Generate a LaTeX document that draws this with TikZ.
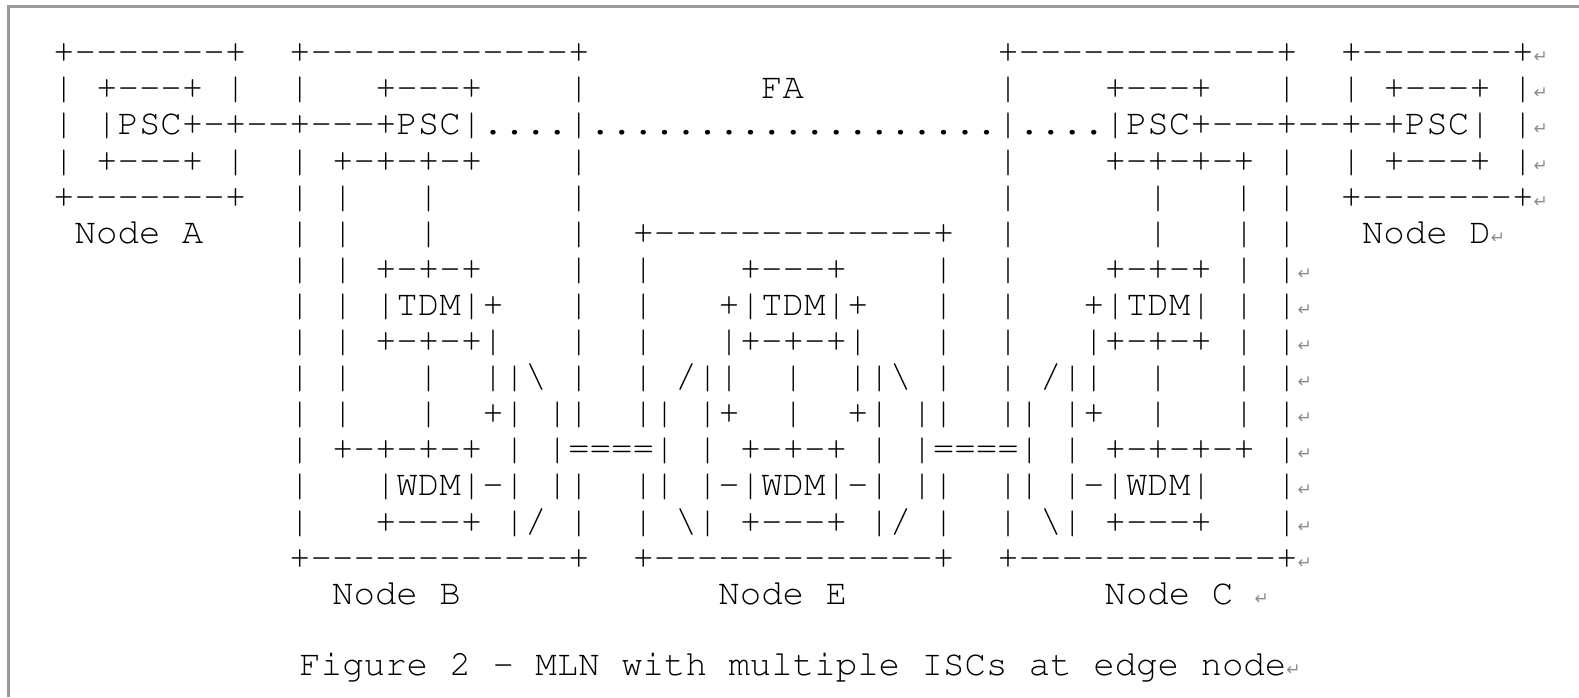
\documentclass[tikz,border=0pt]{standalone}
\usepackage[T1,TU]{fontenc}
\usepackage{fontspec}
\usepackage{tikz}

\newfontfamily\retfont{DejaVu Sans}
\newcommand{\asciifont}{\fontencoding{T1}\fontfamily{pcr}\fontseries{m}\fontshape{n}\fontsize{17.88}{20}\selectfont\frenchspacing}
\definecolor{retgray}{HTML}{8C8C8C}
\definecolor{framegray}{HTML}{9A9A9A}
\newcommand{\retmark}{{\retfont\fontsize{8.5}{9}\selectfont\color{retgray}↵}}

% the figure rows, spaces and dashes kept as typed
\begingroup
\obeyspaces
\catcode`\-=\active
\gdef-{{\string-}}
\gdef\figrowa{\null+-------+  +------------+                   +------------+  +-------+\retmark}
\gdef\figrowb{\null| +---+ |  |   +---+    |        FA         |    +---+   |  | +---+ |\retmark}
\gdef\figrowc{\null| |PSC+-+--+---+PSC|....|...................|....|PSC+---+--+-+PSC| |\retmark}
\gdef\figrowd{\null| +---+ |  | +-+-+-+    |                   |    +-+-+-+ |  | +---+ |\retmark}
\gdef\figrowe{\null+-------+  | |   |      |                   |      |   | |  +-------+\retmark}
\gdef\figrowf{\null Node A    | |   |      |  +-------------+  |      |   | |   Node D\retmark}
\gdef\figrowg{\null           | | +-+-+    |  |    +---+    |  |    +-+-+ | |\retmark}
\gdef\figrowh{\null           | | |TDM|+   |  |   +|TDM|+   |  |   +|TDM| | |\retmark}
\gdef\figrowi{\null           | | +-+-+|   |  |   |+-+-+|   |  |   |+-+-+ | |\retmark}
\gdef\figrowj{\null           | |   |  ||\textbackslash |  | /||  |  ||\textbackslash |  | /||  |   | |\retmark}
\gdef\figrowk{\null           | |   |  +| ||  || |+  |  +| ||  || |+  |   | |\retmark}
\gdef\figrowl{\null           | +-+-+-+ | |====| | +-+-+ | |====| | +-+-+-+ |\retmark}
\gdef\figrowm{\null           |   |WDM|-| ||  || |-|WDM|-| ||  || |-|WDM|   |\retmark}
\gdef\figrown{\null           |   +---+ |/ |  | \textbackslash| +---+ |/ |  | \textbackslash| +---+   |\retmark}
\gdef\figrowo{\null           +------------+  +-------------+  +------------+\retmark}
\gdef\figrowp{\null             Node B            Node E            Node C \retmark}
\gdef\figcaption{\null Figure 2 - MLN with multiple ISCs at edge node\retmark}
\endgroup

\begin{document}
\begin{tikzpicture}[x=0.5pt, y=-0.5pt, every node/.style={font=\asciifont, inner sep=0pt, outer sep=0pt, anchor=base west}]
	\useasboundingbox (0,0) rectangle (1579,697);
	\draw[framegray, line width=1.5pt] (8,697) -- (8,6) -- (1579,6);
	\node (r1) at (53.2,62.7) {\figrowa};
	\node (r2) at (53.2,98.8) {\figrowb};
	\node (r3) at (53.2,134.9) {\figrowc};
	\node (r4) at (53.2,171.0) {\figrowd};
	\node (r5) at (53.2,207.1) {\figrowe};
	\node (r6) at (53.2,243.2) {\figrowf};
	\node (r7) at (53.2,279.3) {\figrowg};
	\node (r8) at (53.2,315.4) {\figrowh};
	\node (r9) at (53.2,351.5) {\figrowi};
	\node (r10) at (53.2,387.6) {\figrowj};
	\node (r11) at (53.2,423.7) {\figrowk};
	\node (r12) at (53.2,459.8) {\figrowl};
	\node (r13) at (53.2,495.9) {\figrowm};
	\node (r14) at (53.2,532.0) {\figrown};
	\node (r15) at (53.2,568.1) {\figrowo};
	\node (r16) at (53.2,604.2) {\figrowp};
	\node (cap) at (278,675.5) {\figcaption};
\end{tikzpicture}
\end{document}
